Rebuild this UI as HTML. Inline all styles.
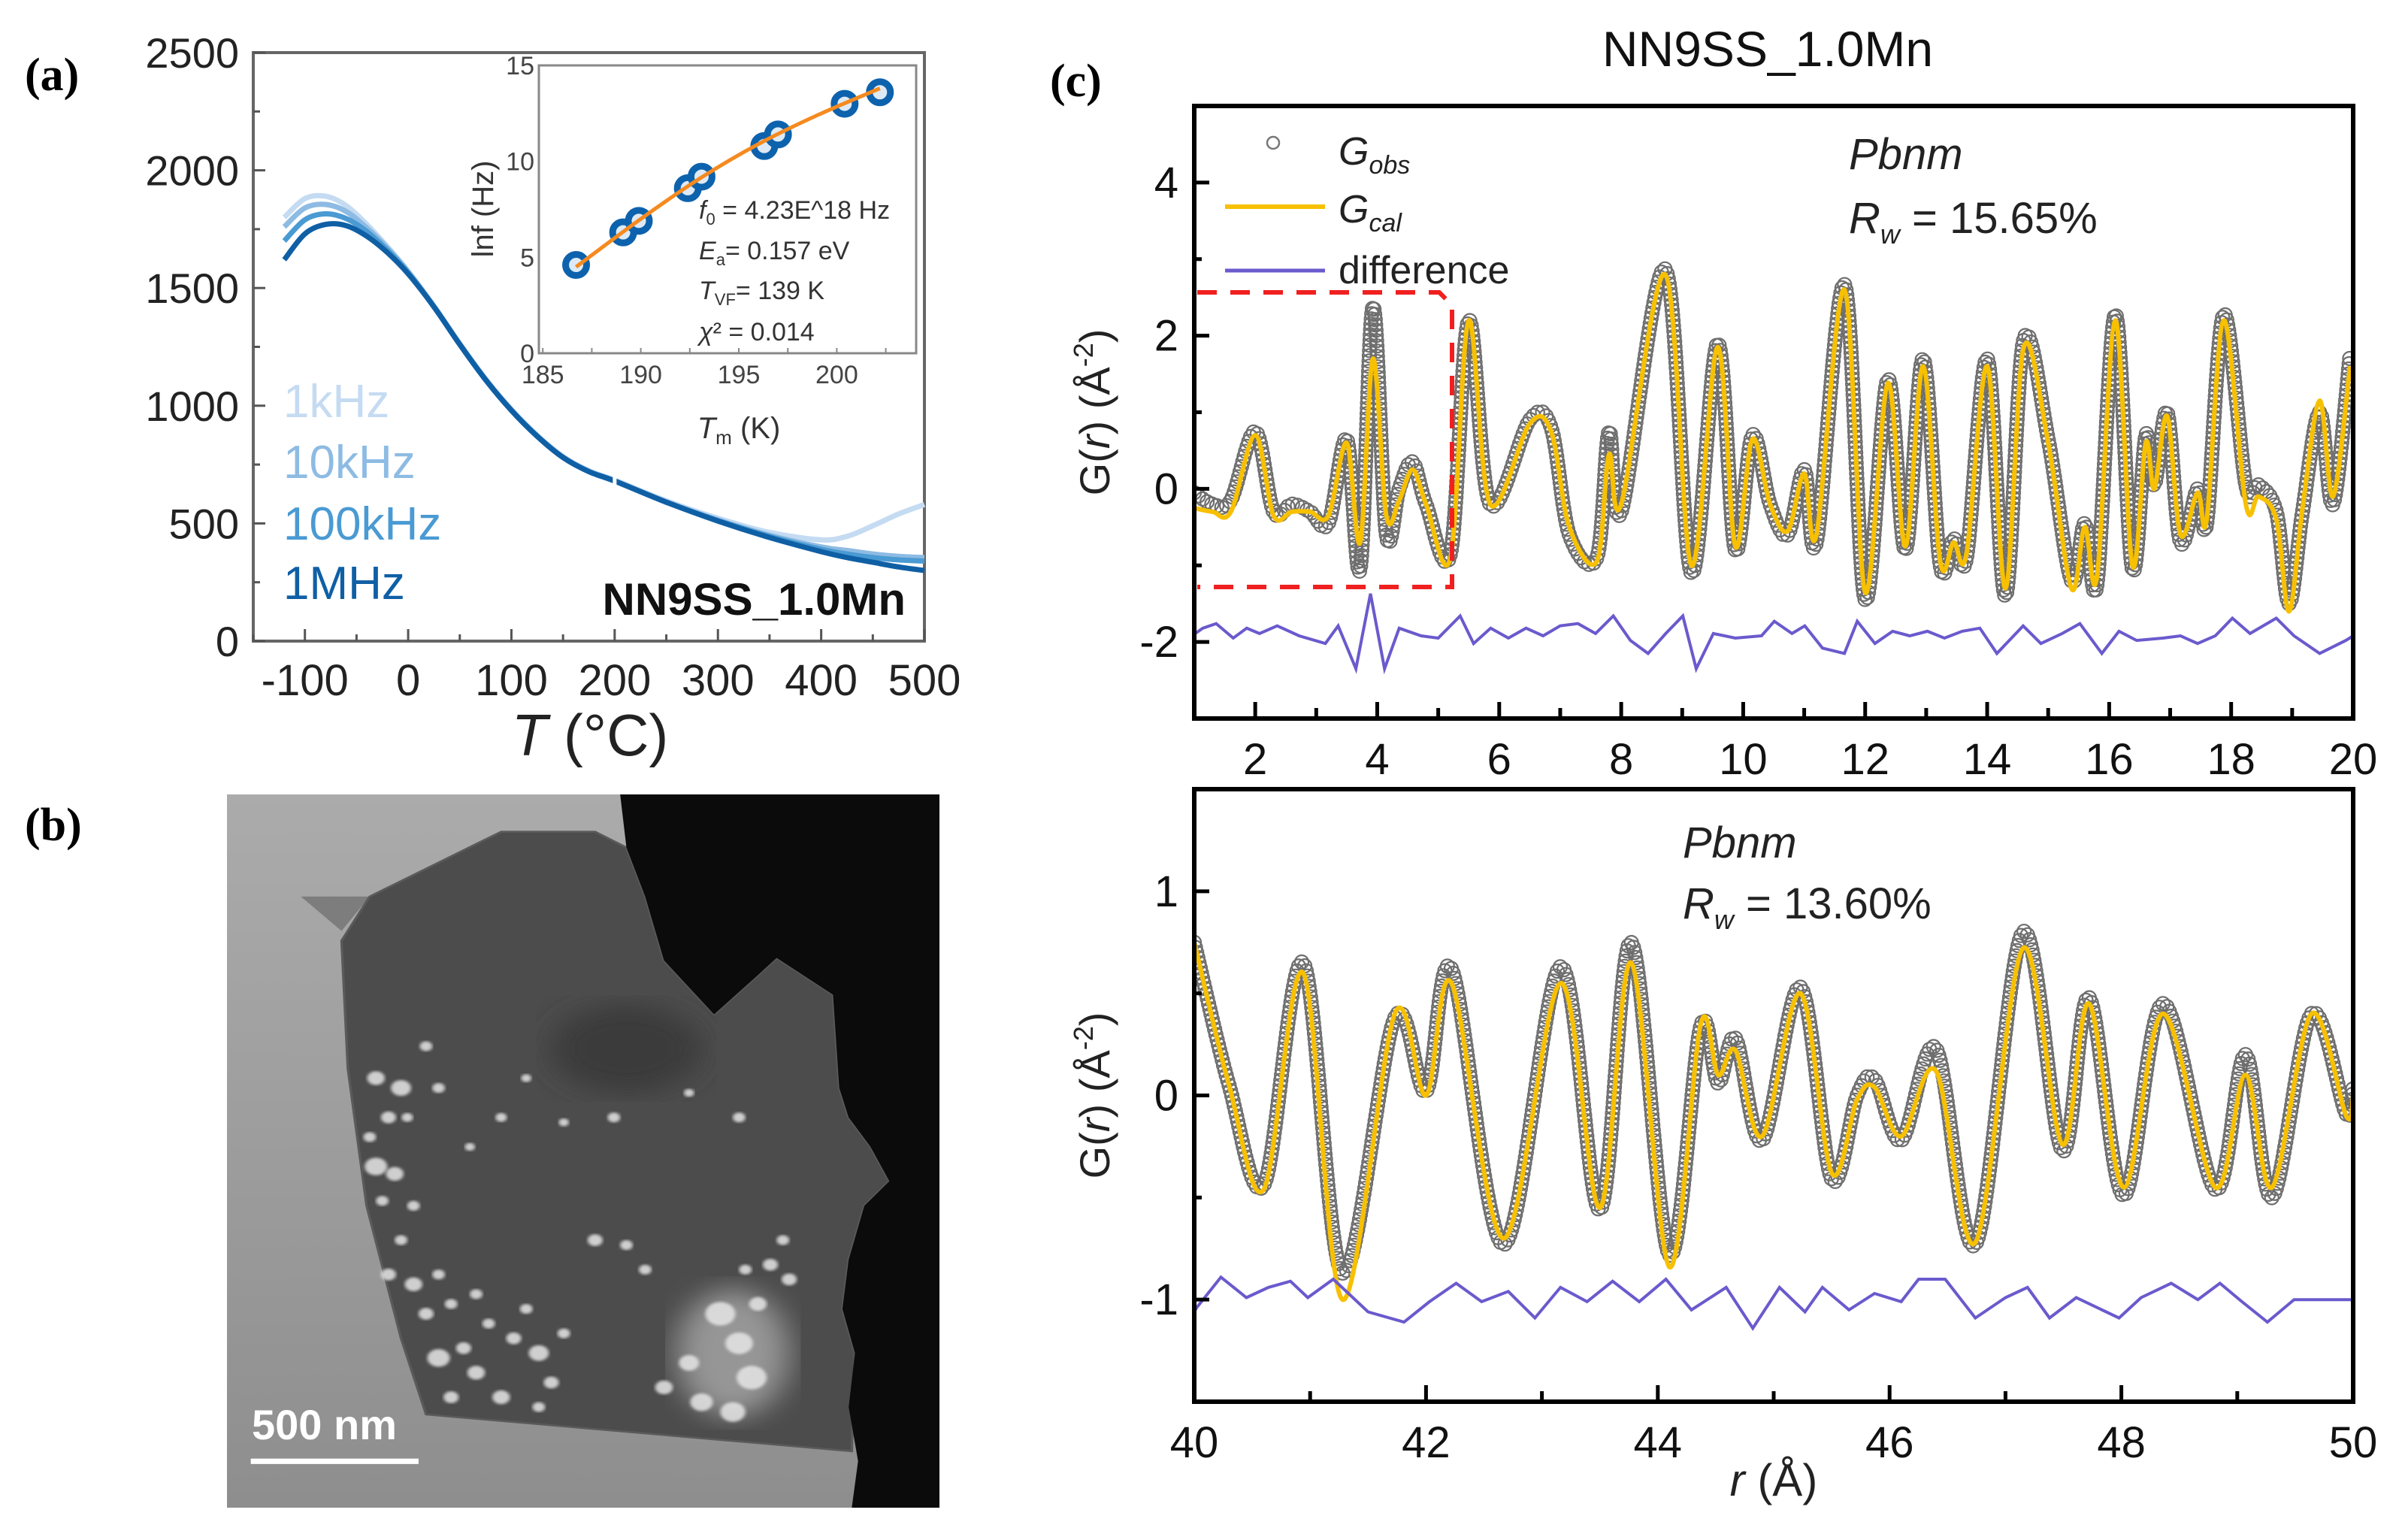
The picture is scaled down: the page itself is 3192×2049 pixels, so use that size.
<!DOCTYPE html>
<html><head><meta charset="utf-8">
<style>
html,body{margin:0;padding:0;background:#fff;}
svg{display:block;font-family:"Liberation Sans",sans-serif;}
</style></head>
<body>
<svg id="fig" xmlns="http://www.w3.org/2000/svg" width="3192" height="2049" viewBox="0 0 3192 2049">
<rect x="0" y="0" width="3192" height="2049" fill="#fff"/>
<g id="pa"></g>
<g id="pb"></g>
<g id="pc"></g>
</svg>
<script>
// ---------------- Panel (a) data ----------------
const tempC = [-120,-100,-80,-60,-40,-20,0,25,50,75,100,125,150,175,200,250,300,350,400,425,450,475,500];
const eps1MHz = [1620,1730,1770,1765,1720,1650,1560,1420,1260,1110,980,870,780,720,680,590,510,440,380,355,335,315,300];
const eps100kHz = [1700,1790,1815,1795,1740,1660,1565,1420,1260,1110,980,870,780,720,680,590,512,445,390,370,355,345,340];
const eps10kHz = [1760,1840,1855,1825,1755,1670,1570,1422,1262,1112,982,872,782,722,682,592,515,450,400,385,370,360,355];
const eps1kHz = [1800,1880,1890,1850,1770,1675,1570,1424,1264,1114,984,874,784,724,684,596,522,462,430,445,490,540,580];
const freqLabels = ["1kHz","10kHz","100kHz","1MHz"];
const aXTicks = [-100,0,100,200,300,400,500];
const aYTicks = [0,500,1000,1500,2000,2500];
// inset
const insetTm = [186.7,189.1,189.9,192.4,193.1,196.3,197.0,200.4,202.2];
const insetLnf = [4.6,6.3,6.9,8.6,9.2,10.8,11.4,13.0,13.6];
const fitTm = [186.7,190,193,196,199,202.2];
const fitLnf = [4.5,7.0,9.1,10.9,12.4,13.8];
const insetXTicks = [185,190,195,200];
const insetYTicks = [0,5,10,15];

// ---------------- Panel (c) data ----------------
const rTop = [1.0,1.3,1.6,2.0,2.3,2.6,2.9,3.2,3.5,3.72,3.93,4.15,4.36,4.58,4.8,5.2,5.5,5.85,6.5,6.85,7.15,7.6,7.8,8.0,8.72,9.15,9.58,9.87,10.15,10.44,10.73,11.0,11.2,11.66,12.0,12.37,12.66,12.95,13.23,13.45,13.66,14.0,14.3,14.6,15.0,15.38,15.6,15.8,16.1,16.38,16.6,16.74,16.95,17.17,17.45,17.6,17.88,18.24,18.45,18.74,18.95,19.17,19.45,19.67,19.95];
const gObsTop = [-0.05,-0.2,-0.15,0.75,-0.3,-0.2,-0.3,-0.45,0.65,-1.05,2.38,-0.6,0.0,0.35,-0.2,-0.85,2.2,-0.2,0.9,0.8,-0.6,-0.9,0.75,-0.3,2.87,-1.1,1.9,-0.8,0.7,-0.2,-0.6,0.25,-0.7,2.67,-1.45,1.43,-0.8,1.7,-1.0,-0.65,-0.9,1.7,-1.4,1.95,0.65,-1.2,-0.45,-1.25,2.28,-1.05,0.7,0.05,1.0,-0.7,0.0,-0.45,2.28,0.05,0.05,-0.3,-1.5,-0.3,1.0,-0.2,1.75];
const gCalTop = [-0.25,-0.3,-0.3,0.7,-0.35,-0.3,-0.3,-0.35,0.6,-0.7,1.7,-0.35,-0.15,0.25,-0.2,-0.9,2.2,-0.2,0.85,0.75,-0.5,-0.95,0.45,-0.2,2.8,-1.0,1.85,-0.75,0.65,-0.2,-0.55,0.2,-0.6,2.6,-1.35,1.38,-0.75,1.6,-0.95,-0.7,-0.85,1.6,-1.3,1.85,0.6,-1.3,-0.5,-1.15,2.2,-1.0,0.6,0.0,0.95,-0.6,-0.05,-0.4,2.2,-0.2,-0.1,-0.4,-1.6,-0.25,1.15,-0.1,1.6];
const rDiffTop = [1.0,1.14,1.36,1.64,1.86,2.07,2.36,2.72,3.15,3.36,3.65,3.89,4.12,4.36,4.72,5.0,5.36,5.58,5.86,6.15,6.44,6.72,7.0,7.29,7.58,7.87,8.15,8.44,8.73,9.01,9.23,9.51,9.87,10.3,10.51,10.8,11.01,11.3,11.66,11.87,12.16,12.45,12.73,13.02,13.3,13.59,13.88,14.16,14.59,14.88,15.23,15.52,15.88,16.16,16.45,16.88,17.17,17.45,17.74,18.02,18.31,18.74,19.03,19.45,19.88,20.0];
const gDiffTop = [-1.9,-1.82,-1.76,-1.95,-1.82,-1.89,-1.79,-1.92,-2.02,-1.79,-2.35,-1.37,-2.35,-1.82,-1.92,-1.95,-1.66,-2.02,-1.82,-1.95,-1.82,-1.92,-1.79,-1.76,-1.89,-1.66,-1.98,-2.15,-1.89,-1.66,-2.35,-1.89,-1.95,-1.92,-1.73,-1.89,-1.79,-2.08,-2.15,-1.73,-2.02,-1.86,-1.92,-1.86,-1.95,-1.86,-1.82,-2.15,-1.79,-2.02,-1.89,-1.76,-2.15,-1.86,-1.98,-1.95,-1.92,-2.02,-1.92,-1.69,-1.89,-1.69,-1.92,-2.15,-1.98,-1.92];
const rBot = [40.0,40.3,40.6,40.94,41.28,41.73,42.0,42.22,42.67,43.16,43.5,43.77,44.1,44.37,44.52,44.67,44.9,45.23,45.5,45.72,45.87,46.1,46.4,46.74,47.15,47.49,47.72,48.02,48.36,48.81,49.07,49.3,49.64,49.94,50.0];
const gObsBot = [0.75,0.05,-0.44,0.65,-0.87,0.38,0.02,0.62,-0.73,0.63,-0.56,0.75,-0.78,0.34,0.06,0.28,-0.22,0.53,-0.41,0.0,0.08,-0.22,0.23,-0.73,0.8,-0.27,0.48,-0.49,0.45,-0.46,0.2,-0.5,0.4,-0.09,0.05];
const gCalBot = [0.75,0.05,-0.46,0.6,-1.0,0.4,0.0,0.55,-0.7,0.55,-0.55,0.65,-0.84,0.35,0.1,0.22,-0.2,0.5,-0.38,-0.02,0.04,-0.2,0.12,-0.72,0.72,-0.24,0.45,-0.45,0.4,-0.45,0.1,-0.45,0.4,-0.1,0.0];
const rDiffBot = [40.0,40.02,40.23,40.45,40.64,40.83,40.98,41.2,41.5,41.81,42.03,42.26,42.48,42.71,42.94,43.16,43.39,43.61,43.84,44.07,44.29,44.59,44.82,45.05,45.27,45.42,45.65,45.87,46.1,46.25,46.48,46.74,47.0,47.19,47.38,47.61,47.98,48.17,48.43,48.66,48.85,49.04,49.26,49.49,49.75,49.98,50.0];
const gDiffBot = [-1.06,-1.04,-0.89,-0.99,-0.94,-0.91,-0.99,-0.9,-1.06,-1.11,-1.01,-0.92,-1.01,-0.96,-1.09,-0.94,-1.01,-0.91,-1.01,-0.9,-1.05,-0.94,-1.14,-0.94,-1.06,-0.94,-1.05,-0.97,-1.01,-0.9,-0.9,-1.09,-0.99,-0.94,-1.09,-0.99,-1.09,-0.99,-0.92,-1.0,-0.92,-1.01,-1.11,-1.0,-1.0,-1.0,-1.0];
const cTopXTicks = [2,4,6,8,10,12,14,16,18,20];
const cTopYTicks = [-2,0,2,4];
const cBotXTicks = [40,42,44,46,48,50];
const cBotYTicks = [-1,0,1];

// ---------------- helpers ----------------
const NS = "http://www.w3.org/2000/svg";
function mk(parent, tag, attrs, text){
  const e = document.createElementNS(NS, tag);
  for (const k in attrs) e.setAttribute(k, attrs[k]);
  if (text !== undefined) e.textContent = text;
  parent.appendChild(e);
  return e;
}
function lin(d0,d1,p0,p1){ return v => p0 + (v-d0)*(p1-p0)/(d1-d0); }
function smoothPath(pts){
  let d = "M"+pts[0][0].toFixed(1)+","+pts[0][1].toFixed(1);
  for (let i=0;i<pts.length-1;i++){
    const p0 = pts[Math.max(0,i-1)], p1 = pts[i], p2 = pts[i+1], p3 = pts[Math.min(pts.length-1,i+2)];
    const c1x = p1[0]+(p2[0]-p0[0])/6, c1y = p1[1]+(p2[1]-p0[1])/6;
    const c2x = p2[0]-(p3[0]-p1[0])/6, c2y = p2[1]-(p3[1]-p1[1])/6;
    d += " C"+c1x.toFixed(1)+","+c1y.toFixed(1)+" "+c2x.toFixed(1)+","+c2y.toFixed(1)+" "+p2[0].toFixed(1)+","+p2[1].toFixed(1);
  }
  return d;
}
function linePath(pts){ return pts.map((p,i)=>(i?"L":"M")+p[0].toFixed(1)+","+p[1].toFixed(1)).join(" "); }

// ---------------- Panel (a) ----------------
const pa = document.getElementById("pa");
const ax = lin(-150,500,337,1230), ay = lin(0,2500,853,70);
let t = mk(pa,"text",{x:33,y:120,"font-family":"Liberation Serif, serif","font-weight":"bold","font-size":62},"(a)");
 
const aFrame = mk(pa,"rect",{x:337,y:70,width:893,height:783,fill:"none",stroke:"#666","stroke-width":4});
 
for (let v=-150; v<=500; v+=50){
  const x = ax(v), major = (v%100===0);
  const tk = mk(pa,"line",{x1:x,x2:x,y1:853,y2:853-(major?16:9),stroke:"#555","stroke-width":3});
   
}
aXTicks.forEach(v=>{
  const l = mk(pa,"text",{x:ax(v),y:925,"text-anchor":"middle","font-size":58,fill:"#222"},String(v));
   
});
for (let v=0; v<=2500; v+=250){
  const y = ay(v), major = (v%500===0);
  const tk = mk(pa,"line",{x1:337,x2:337+(major?16:9),y1:y,y2:y,stroke:"#555","stroke-width":3});
   
}
aYTicks.forEach(v=>{
  const l = mk(pa,"text",{x:318,y:ay(v)+20,"text-anchor":"end","font-size":56,fill:"#222"},String(v));
   
});
t = mk(pa,"text",{x:785,y:1005,"text-anchor":"middle","font-size":78,fill:"#222"});
 
mk(t,"tspan",{"font-style":"italic"},"T");
mk(t,"tspan",{},"\u00a0(\u00b0C)");
const aSeries = [eps1kHz, eps10kHz, eps100kHz, eps1MHz];
const aColors = ["#c4dbf2","#8dbbe3","#4a9ad3","#0f5fa5"];
aSeries.forEach((s,i)=>{
  const p = mk(pa,"path",{d:smoothPath(tempC.map((T,j)=>[ax(T),ay(s[j])])),fill:"none",stroke:aColors[i],"stroke-width":7});
   
});
const gap = mk(pa,"line",{x1:ax(200),x2:ax(200),y1:ay(640),y2:ay(740),stroke:"#fff","stroke-width":5});
 
const legY = [555,636,718,797];
freqLabels.forEach((f,i)=>{
  const l = mk(pa,"text",{x:377,y:legY[i],"font-size":62,fill:aColors[i]},f);
   
});
t = mk(pa,"text",{x:1205,y:818,"text-anchor":"end","font-size":60,"font-weight":"bold",fill:"#111"},"NN9SS_1.0Mn");
 

// inset
const ix = lin(184.8,204.05,717,1219), iy = lin(0,15,470,87);
const iFrame = mk(pa,"rect",{x:717,y:87,width:502,height:383,fill:"#fff",stroke:"#888","stroke-width":3});
 
for (let v=185; v<=204; v+=2.5){
  const tk = mk(pa,"line",{x1:ix(v),x2:ix(v),y1:470,y2:463,stroke:"#888","stroke-width":2});
   
}
insetXTicks.forEach(v=>{
  const l = mk(pa,"text",{x:ix(v),y:510,"text-anchor":"middle","font-size":34,fill:"#444"},String(v));
   
});
insetYTicks.forEach(v=>{
  const l = mk(pa,"text",{x:711,y:iy(v)+12,"text-anchor":"end","font-size":34,fill:"#444"},String(v));
   
});
t = mk(pa,"text",{x:983,y:583,"text-anchor":"middle","font-size":40,fill:"#333"});
 
mk(t,"tspan",{"font-style":"italic"},"T");
mk(t,"tspan",{"font-size":26,dy:8},"m");
mk(t,"tspan",{dy:-8},"\u00a0(K)");
t = mk(pa,"text",{x:0,y:0,"text-anchor":"middle","font-size":40,fill:"#333",transform:"translate(656,278) rotate(-90)"},"lnf (Hz)");
 
insetTm.forEach((T,i)=>{
  const c = mk(pa,"circle",{cx:ix(T),cy:iy(insetLnf[i]),r:14,fill:"#ddeaf6",stroke:"#0d62ad","stroke-width":9});
   
});
const fit = mk(pa,"path",{d:smoothPath(fitTm.map((T,i)=>[ix(T),iy(fitLnf[i])])),fill:"none",stroke:"#f58a1f","stroke-width":5});
 
const inTxt = [["f","0"," = 4.23E^18 Hz",291],["E","a","= 0.157 eV",345],["T","VF","= 139 K",398],["\u03c7","","\u00b2 = 0.014",453]];
inTxt.forEach(a=>{
  const l = mk(pa,"text",{x:930,y:a[3],"font-size":34,fill:"#333"});
   
  mk(l,"tspan",{"font-style":"italic"},a[0]);
  if (a[1]) { mk(l,"tspan",{"font-size":22,dy:8},a[1]); mk(l,"tspan",{dy:-8},a[2]); }
  else mk(l,"tspan",{},a[2]);
});

// ---------------- Panel (b): micrograph ----------------
const pb = document.getElementById("pb");
t = mk(pb,"text",{x:33,y:1118,"font-family":"Liberation Serif, serif","font-weight":"bold","font-size":62},"(b)");
 
const img = mk(pb,"svg",{x:302,y:1057,width:948,height:949,viewBox:"362 42 1138 1453",preserveAspectRatio:"none"});
 
const defs = mk(img,"defs",{});
const lg = mk(defs,"linearGradient",{id:"bgG",x1:0,y1:0,x2:0,y2:1});
mk(lg,"stop",{offset:"0","stop-color":"#ababab"});
mk(lg,"stop",{offset:"1","stop-color":"#8e8e8e"});
const bl = mk(defs,"filter",{id:"blur"}); mk(bl,"feGaussianBlur",{stdDeviation:3});
const bl2 = mk(defs,"filter",{id:"blur2"}); mk(bl2,"feGaussianBlur",{stdDeviation:25});
mk(img,"rect",{x:362,y:42,width:1138,height:1453,fill:"url(#bgG)"});
mk(img,"polygon",{points:"480,250 590,250 545,320",fill:"#7d7d7d"});
const grain = mk(img,"polygon",{points:"800,118 950,118 1000,150 1030,250 1060,380 1140,490 1210,410 1240,375 1330,450 1340,640 1355,700 1390,760 1420,830 1380,880 1355,990 1345,1090 1365,1180 1360,1380 680,1305 640,1150 585,880 555,600 545,340 590,250",fill:"#4c4c4c",stroke:"#5a5a5a","stroke-width":4});
 
mk(img,"ellipse",{cx:1000,cy:560,rx:120,ry:90,fill:"#3a3a3a",filter:"url(#blur2)"});
mk(img,"ellipse",{cx:1170,cy:1180,rx:90,ry:130,fill:"#c8c8c8",opacity:0.6,filter:"url(#blur2)"});
const dark = mk(img,"polygon",{points:"990,42 1500,42 1500,1495 1360,1495 1370,1400 1355,1290 1365,1180 1345,1090 1355,990 1380,880 1420,830 1390,760 1355,700 1340,640 1330,450 1240,375 1210,410 1140,490 1060,380 1030,250 1000,150",fill:"#0b0b0b"});
 
const spots = [[600,620,14],[640,640,16],[680,555,10],[620,700,12],[590,740,10],[650,700,9],[600,800,18],[630,815,14],[610,870,10],[640,950,10],[620,1020,12],[660,1040,14],[700,1020,10],[680,1100,12],[720,1080,10],[700,1190,18],[740,1170,12],[760,1220,14],[780,1120,10],[820,1150,12],[860,1180,16],[840,1090,10],[880,1240,12],[720,1270,12],[800,1270,14],[860,1290,10],[760,1060,10],[900,1140,10],[950,950,12],[1000,960,10],[1030,1010,10],[1060,1250,14],[1100,1200,16],[1120,1280,18],[1150,1100,24],[1180,1160,22],[1200,1230,24],[1170,1300,20],[1210,1080,14],[1230,1000,12],[1250,950,10],[1260,1030,12],[1190,1010,10],[980,700,10],[900,710,8],[840,620,8],[1100,650,8],[1180,700,10],[700,640,10],[750,760,8],[800,700,9],[660,880,10]];
spots.forEach(s=>{ mk(img,"circle",{cx:s[0],cy:s[1],r:s[2],fill:"#e6e6e6",opacity:0.85,filter:"url(#blur)"}); });
const sb = mk(img,"rect",{x:400,y:1395,width:268,height:11,fill:"#fff"});
 
t = mk(pb,"text",{x:335,y:1915,"font-size":56,"font-weight":"bold",fill:"#fff"},"500 nm");
 

// ---------------- Panel (c) ----------------
const pc = document.getElementById("pc");
t = mk(pc,"text",{x:1397,y:128,"font-family":"Liberation Serif, serif","font-weight":"bold","font-size":62},"(c)");
 
t = mk(pc,"text",{x:2352,y:88,"text-anchor":"middle","font-size":66,fill:"#111"},"NN9SS_1.0Mn");
 

function pdfPanel(name, xr, yr, pTop, pBot, xTicks, yTicks, minorStep, rObs, obs, cal, rD, diff){
  const L=1589, R=3131;
  const sx = lin(xr[0],xr[1],L,R), sy = lin(yr[0],yr[1],pBot,pTop);
  const g = mk(pc,"g",{});
   
  const cp = mk(g,"clipPath",{id:"clip-"+name}); mk(cp,"rect",{x:L,y:pTop,width:R-L,height:pBot-pTop});
  const inner = mk(g,"g",{"clip-path":"url(#clip-"+name+")"});
  const obsPts = rObs.map((r,i)=>[sx(r),sy(obs[i])]);
  const guide = mk(inner,"path",{d:smoothPath(obsPts),fill:"none",stroke:"none"});
  const len = guide.getTotalLength();
  const og = mk(inner,"g",{});
   
  for (let s=0; s<=len; s+=7){
    const p = guide.getPointAtLength(s);
    mk(og,"circle",{cx:p.x.toFixed(1),cy:p.y.toFixed(1),r:9,fill:"none",stroke:"#6e6e6e","stroke-width":2.2});
  }
  const calP = mk(inner,"path",{d:smoothPath(rObs.map((r,i)=>[sx(r),sy(cal[i])])),fill:"none",stroke:"#f7c000","stroke-width":6});
   
  const dP = mk(inner,"path",{d:linePath(rD.map((r,i)=>[sx(r),sy(diff[i])])),fill:"none",stroke:"#6a5acd","stroke-width":4});
   
  const fr = mk(g,"rect",{x:L,y:pTop,width:R-L,height:pBot-pTop,fill:"none",stroke:"#000","stroke-width":6});
   
  for (let v=xr[0]; v<=xr[1]+1e-9; v+=minorStep){
    const major = xTicks.some(m=>Math.abs(m-v)<1e-6);
    const tk = mk(g,"line",{x1:sx(v),x2:sx(v),y1:pBot,y2:pBot-(major?22:14),stroke:"#000","stroke-width":5});
     
  }
  xTicks.forEach(v=>{
    const l = mk(g,"text",{x:sx(v),y:pBot+74,"text-anchor":"middle","font-size":58,fill:"#111"},String(v));
     
  });
  for (let v=yr[0]; v<=yr[1]+1e-9; v+=(yTicks[1]-yTicks[0])/2){
    const major = yTicks.some(m=>Math.abs(m-v)<1e-6);
    const tk = mk(g,"line",{x1:L,x2:L+(major?20:10),y1:sy(v),y2:sy(v),stroke:"#000","stroke-width":5});
     
  }
  yTicks.forEach(v=>{
    const l = mk(g,"text",{x:1568,y:sy(v)+20,"text-anchor":"end","font-size":58,fill:"#111"},String(v));
     
  });
  const yl = mk(g,"text",{"text-anchor":"middle","font-size":56,fill:"#222",transform:"translate(1476,"+((pTop+pBot)/2)+") rotate(-90)"});
   
  mk(yl,"tspan",{},"G(");
  mk(yl,"tspan",{"font-style":"italic"},"r");
  mk(yl,"tspan",{},") (\u00c5");
  mk(yl,"tspan",{"font-size":36,dy:-22},"-2");
  mk(yl,"tspan",{dy:22},")");
  return {sx,sy,g};
}
const topPanel = pdfPanel("pdf-top-chart",[1,20],[-3,5],141,956,cTopXTicks,cTopYTicks,1,rTop,gObsTop,gCalTop,rDiffTop,gDiffTop);
const botPanel = pdfPanel("pdf-bottom-chart",[40,50],[-1.5,1.5],1050,1865,cBotXTicks,cBotYTicks,1,rBot,gObsBot,gCalBot,rDiffBot,gDiffBot);

// red dashed zoom box
const rb = mk(pc,"path",{d:"M1593,389 L1915,389 L1932,406 L1932,781 L1593,781",fill:"none",stroke:"#f02020","stroke-width":6,"stroke-dasharray":"26,18"});
 

// legend top
let lc = mk(pc,"circle",{cx:1694,cy:190,r:8,fill:"none",stroke:"#777","stroke-width":2.5});
 
t = mk(pc,"text",{x:1781,y:219,"font-size":52,fill:"#222"});
 
mk(t,"tspan",{"font-style":"italic"},"G"); mk(t,"tspan",{"font-style":"italic","font-size":34,dy:12},"obs");
lc = mk(pc,"line",{x1:1630,x2:1763,y1:275,y2:275,stroke:"#f7c000","stroke-width":6});
 
t = mk(pc,"text",{x:1781,y:296,"font-size":52,fill:"#222"});
 
mk(t,"tspan",{"font-style":"italic"},"G"); mk(t,"tspan",{"font-style":"italic","font-size":34,dy:12},"cal");
lc = mk(pc,"line",{x1:1630,x2:1763,y1:360,y2:360,stroke:"#6a5acd","stroke-width":5});
 
t = mk(pc,"text",{x:1781,y:377,"font-size":52,fill:"#222"},"difference");
 

function annot(x,y1,y2,rw,nm){
  let a = mk(pc,"text",{x:x,y:y1,"font-size":58,"font-style":"italic",fill:"#222"},"Pbnm");
   
  a = mk(pc,"text",{x:x,y:y2,"font-size":58,fill:"#222"});
   
  mk(a,"tspan",{"font-style":"italic"},"R");
  mk(a,"tspan",{"font-style":"italic","font-size":36,dy:14},"w");
  mk(a,"tspan",{dy:-14},"\u00a0= "+rw);
}
annot(2460,225,310,"15.65%","top");
annot(2239,1141,1222,"13.60%","bottom");
t = mk(pc,"text",{x:2360,y:1990,"text-anchor":"middle","font-size":60,fill:"#222"});
 
mk(t,"tspan",{"font-style":"italic"},"r");
mk(t,"tspan",{},"\u00a0(\u00c5)");
</script>
</body></html>
